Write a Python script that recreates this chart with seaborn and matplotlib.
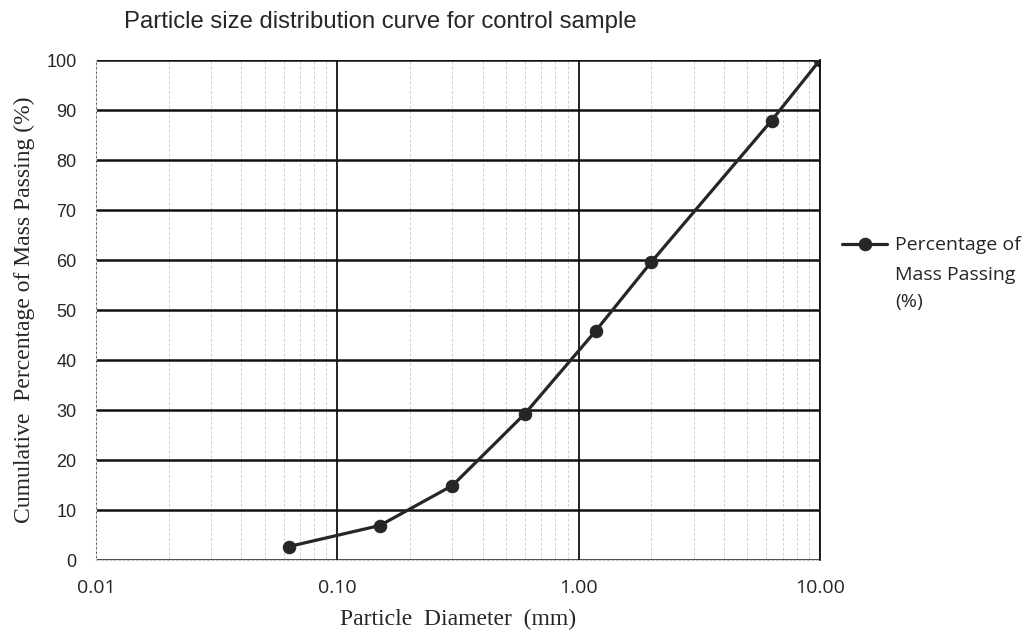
import numpy as np
import pandas as pd
import matplotlib
matplotlib.use("Agg")
import matplotlib.pyplot as plt
import matplotlib.ticker as mticker
import seaborn as sns

# Sieve data for control sample
diameter_mm = [0.063, 0.15, 0.30, 0.60, 1.18, 2.00, 6.30, 10.00]
passing_pct = [2.7, 6.9, 14.9, 29.3, 45.9, 59.6, 87.9, 100.0]

x_ticks = [0.01, 0.1, 1, 10]
x_tick_labels = ["0.01", "0.10", "1.00", "10.00"]
y_ticks = list(range(0, 101, 10))

df = pd.DataFrame({"diameter": diameter_mm, "passing": passing_pct})

sns.set_style("white")
plt.rcParams["font.family"] = ["Open Sans", "DejaVu Sans"]

fig = plt.figure(figsize=(10.31, 6.39), dpi=100)
ax = fig.add_axes([0.0931, 0.1236, 0.7022, 0.7824])

sns.lineplot(
    data=df,
    x="diameter",
    y="passing",
    marker="o",
    markersize=9,
    color="#262626",
    linewidth=2.3,
    markeredgecolor="#262626",
    label="Percentage of",
    ax=ax,
)

ax.set_xscale("log")
ax.set_xlim(0.01, 10)
ax.set_ylim(0, 100)

# Gridlines
ax.set_yticks(y_ticks)
ax.set_xticks(x_ticks)
ax.set_xticklabels(x_tick_labels)
ax.xaxis.set_minor_locator(mticker.LogLocator(base=10, subs=np.arange(2, 10)))
ax.xaxis.set_minor_formatter(mticker.NullFormatter())
ax.grid(True, which="major", axis="y", color="#111111", linewidth=1.8)
ax.grid(True, which="major", axis="x", color="#111111", linewidth=1.3)
ax.grid(True, which="minor", axis="x", color="#d0d0d0", linewidth=0.7, linestyle=(0, (3, 2)))
ax.set_axisbelow(True)

for side in ["left", "bottom"]:
    ax.spines[side].set_color("#c8c8c8")
    ax.spines[side].set_linewidth(0.8)
    ax.spines[side].set_linestyle((0, (2, 2)))
ax.spines["top"].set_visible(False)
ax.spines["right"].set_color("#111111")
ax.spines["right"].set_linewidth(1.3)

ax.tick_params(axis="both", which="both", length=0)
ax.tick_params(axis="x", labelsize=14, pad=14)
ax.tick_params(axis="y", labelsize=13, pad=14)
for lbl in ax.get_yticklabels():
    lbl.set_family(["Liberation Sans", "DejaVu Sans"])

ax.set_xlabel("Particle  Diameter  (mm)", family="Liberation Serif", fontsize=17, labelpad=8)
ax.set_ylabel("Cumulative  Percentage of Mass Passing (%)", family="Liberation Serif", fontsize=17, labelpad=8)

fig.text(0.3686, 0.965, "Particle size distribution curve for control sample",
         ha="center", va="center", family="Liberation Sans", fontsize=17.2)

leg = ax.legend(loc="upper left", bbox_to_anchor=(1.02, 0.663), frameon=False,
                fontsize=14, handlelength=2.3, handletextpad=0.4, borderaxespad=0)
fig.text(0.868, 0.549, "Mass Passing\n(%)", ha="left", va="center",
         fontsize=14, linespacing=1.65)

fig.savefig("out.png", dpi=100)
